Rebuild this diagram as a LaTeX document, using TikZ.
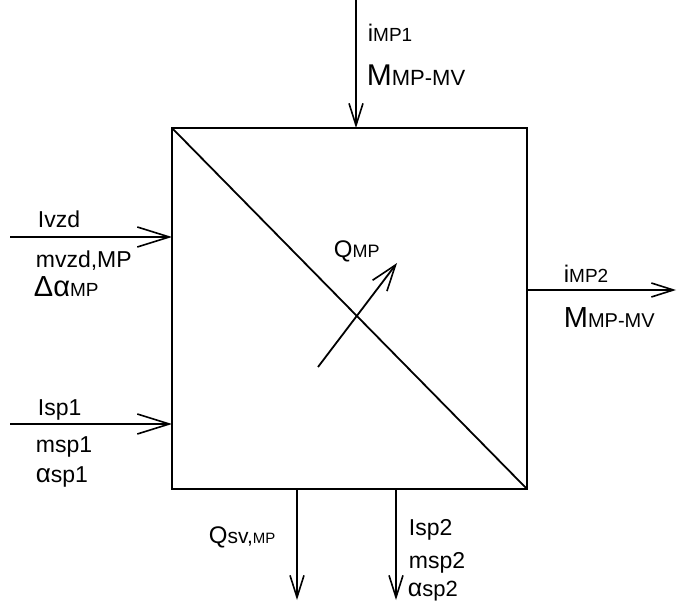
\documentclass[tikz,border=0pt]{standalone}
\usepackage{fontspec}
\setmainfont{Liberation Sans}
\usetikzlibrary{arrows.meta}
\newcommand\sz[1]{\fontsize{#1}{#1}\selectfont}
\begin{document}
\begin{tikzpicture}[x=1pt,y=-1pt,line width=1.8pt,
  lbl/.style={anchor=base west,inner sep=0pt},
  flow/.style={-{Straight Barb[length=22pt,width=14pt,line width=1.6pt]}},
  bigflow/.style={-{Straight Barb[length=32pt,width=20pt,line width=1.6pt]}}]
\useasboundingbox (0,0) rectangle (677,601);
% block
\coordinate (tl) at (172,128);
\coordinate (br) at (527,489);
\draw (tl) rectangle (br);
\draw (tl) -- (br);
% top input
\coordinate (t0) at (356,0);
\coordinate (t1) at (356,128);
\draw[flow] (t0) -- (t1);
\node[lbl] (ti) at (367,42) {\sz{24}i\sz{19}MP1};
\node[lbl] (tm) at (366,86) {\sz{30}M\sz{22}MP-MV};
% left inputs
\coordinate (a0) at (10,237);
\coordinate (a1) at (172,237);
\draw[bigflow] (a0) -- (a1);
\node[lbl] (ai) at (37,228) {\sz{23}Ivzd};
\node[lbl] (am) at (35,268) {\sz{23}mvzd,MP};
\node[lbl] (ad) at (33,297) {\sz{29}Δα\sz{19}MP};
\coordinate (b0) at (10,424);
\coordinate (b1) at (172,424);
\draw[bigflow] (b0) -- (b1);
\node[lbl] (bi) at (37,415) {\sz{23}Isp1};
\node[lbl] (bm) at (35,452) {\sz{23}msp1};
\node[lbl] (ba) at (35,482) {\sz{26}α\sz{23}sp1};
% right output
\coordinate (r0) at (527,290);
\coordinate (r1) at (676,290);
\draw[flow] (r0) -- (r1);
\node[lbl] (ri) at (563,283) {\sz{24}i\sz{19}MP2};
\node[lbl] (rm) at (563,328) {\sz{29}M\sz{20}MP-MV};
% bottom outputs
\coordinate (q0) at (297,489);
\coordinate (q1) at (297,600);
\draw[flow] (q0) -- (q1);
\node[lbl] (ql) at (208,543) {\sz{24}Q\sz{21}sv,\sz{15}MP};
\coordinate (s0) at (396,489);
\coordinate (s1) at (396,600);
\draw[flow] (s0) -- (s1);
\node[lbl] (si) at (408,535) {\sz{23}Isp2};
\node[lbl] (sm) at (408,568) {\sz{23}msp2};
\node[lbl] (sa) at (407,596) {\sz{25}α\sz{22}sp2};
% internal heat
\coordinate (h0) at (318,367);
\coordinate (h1) at (397,263);
\draw[-{Straight Barb[length=26pt,width=18pt,line width=1.6pt]}] (h0) -- (h1);
\node[lbl] (hq) at (333,258) {\sz{24}Q\sz{18}MP};
\end{tikzpicture}
\end{document}
